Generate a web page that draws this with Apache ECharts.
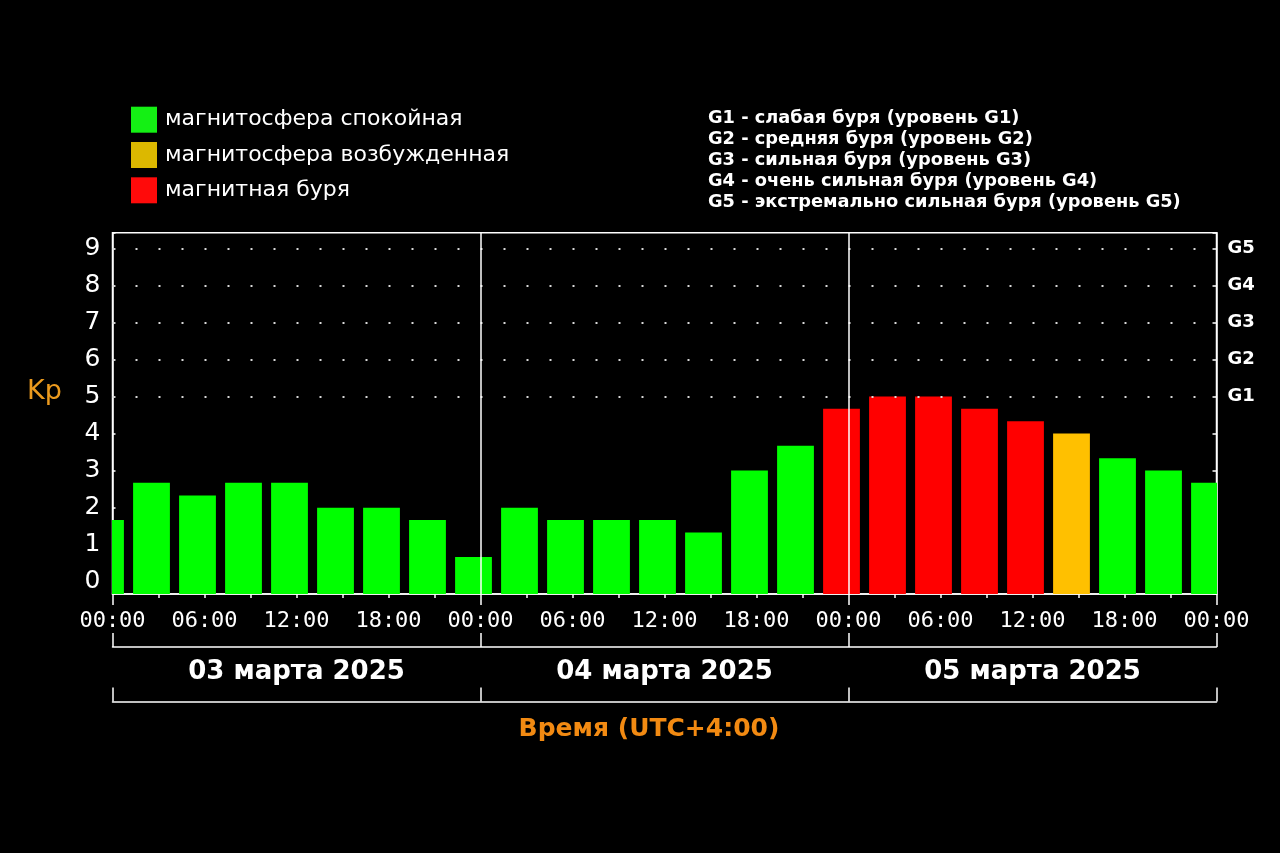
<!DOCTYPE html>
<html>
<head>
<meta charset="utf-8">
<script src="https://cdn.jsdelivr.net/npm/echarts@6/dist/echarts.min.js"></script>
<style>
html,body{margin:0;padding:0;background:#000;}
#chart{width:1280px;height:853px;}
</style>
</head>
<body>
<div id="chart"></div>
<script>
// ---- data ----
const hours = [0, 3, 6, 9, 12, 15, 18, 21, 24, 27, 30, 33, 36, 39, 42, 45, 48, 51, 54, 57, 60, 63, 66, 69, 72];
const kp = [1.67, 2.67, 2.33, 2.67, 2.67, 2.0, 2.0, 1.67, 0.67,
            2.0, 1.67, 1.67, 1.67, 1.33, 3.0, 3.67, 4.67,
            5.0, 5.0, 4.67, 4.33, 4.0, 3.33, 3.0, 2.67];
const timeLabels = ['00:00', '06:00', '12:00', '18:00'];
const dayLabels = ['03 марта 2025', '04 марта 2025', '05 марта 2025'];
const gLevels = [5, 6, 7, 8, 9];
const gLabels = ['G1', 'G2', 'G3', 'G4', 'G5'];
const statusNames = ['магнитосфера спокойная', 'магнитосфера возбужденная', 'магнитная буря'];
const gLegend = [
  'G1 - слабая буря (уровень G1)',
  'G2 - средняя буря (уровень G2)',
  'G3 - сильная буря (уровень G3)',
  'G4 - очень сильная буря (уровень G4)',
  'G5 - экстремально сильная буря (уровень G5)'
];

// ---- styling ----
const FONT = 'DejaVu Sans';
const barColors = ['#00ff00', '#ffc000', '#ff0000'];
const legendColors = ['#14f014', '#dcb800', '#ff0a0a'];
const Y_MIN = -0.33, Y_MAX = 9.42;
const BAR_SHIFT = -7;

function statusOf(v) { return v >= 4.3 ? 2 : (v >= 4 ? 1 : 0); }

function renderBar(params, api) {
  const x = api.value(0), v = api.value(1);
  const top = api.coord([x, v]);
  const bottom = api.coord([x, Y_MIN]);
  const w = api.size([3, 0])[0] * 0.8;
  return {
    type: 'rect',
    shape: { x: top[0] - w / 2 + BAR_SHIFT, y: top[1], width: w, height: bottom[1] - top[1] },
    style: { fill: api.visual('color') }
  };
}

const barSeries = statusNames.map((name, s) => ({
  name: name,
  type: 'custom',
  xAxisIndex: 0,
  yAxisIndex: 0,
  clip: true,
  z: 3,
  itemStyle: { color: barColors[s] },
  encode: { x: 0, y: 1 },
  renderItem: renderBar,
  data: hours.map((h, i) => [h, kp[i]]).filter(d => statusOf(d[1]) === s)
}));

const gridSeries = {
  type: 'line',
  name: 'grid',
  z: 1,
  data: [],
  silent: true,
  markLine: {
    silent: true,
    symbol: ['none', 'none'],
    label: { show: false },
    animation: false,
    data: gLevels.map(g => ({ yAxis: g, lineStyle: { type: [2, 21], color: '#d8d8d8', width: 2 } }))
      .concat([24, 48].map(h => ({ xAxis: h, lineStyle: { type: 'solid', color: '#ffffff', width: 1.5 } })))
  }
};

const chart = echarts.init(document.getElementById('chart'), null, { renderer: 'canvas' });
chart.setOption({
  backgroundColor: '#000',
  animation: false,
  title: [
    { text: 'Kp', left: 27, top: 378, padding: 0,
      textStyle: { color: '#eb9a1e', fontSize: 27, fontWeight: 'normal', fontFamily: FONT } },
    { text: 'Время (UTC+4:00)', left: 649, textAlign: 'center', top: 717, padding: 0,
      textStyle: { color: '#f28a12', fontSize: 25, fontWeight: 'bold', fontFamily: FONT } },
    { text: gLegend.join('\n'), left: 708, top: 108, padding: 0,
      textStyle: { color: '#ffffff', fontSize: 17.8, fontWeight: 'bold', fontFamily: FONT, lineHeight: 21 } }
  ],
  legend: {
    data: statusNames.map((n, i) => ({ name: n, itemStyle: { color: legendColors[i] } })),
    orient: 'vertical', left: 131, top: 106.7, padding: 0,
    itemWidth: 26, itemHeight: 26, itemGap: 9.3, icon: 'rect',
    selectedMode: false,
    textStyle: { color: '#ffffff', fontSize: 22, fontFamily: FONT, padding: [0, 0, 0, 3] }
  },
  grid: {
    left: 112.5, right: 63.5, top: 232.7, bottom: 259,
    show: true, borderColor: '#ffffff', borderWidth: 1.5,
    backgroundColor: 'transparent',
    containLabel: false, outerBoundsMode: 'none'
  },
  xAxis: [
    { type: 'value', min: 0, max: 72, interval: 3, position: 'bottom',
      axisLine: { show: true, onZero: false, lineStyle: { color: '#fff', width: 1.5 } },
      axisTick: { show: true, length: 4, lineStyle: { color: '#fff', width: 1.5 } },
      splitLine: { show: false },
      axisLabel: { color: '#fff', fontFamily: 'DejaVu Sans Mono', fontSize: 22, margin: 16,
        formatter: v => (v % 6 === 0 ? timeLabels[(v % 24) / 6] : '') } },
    { type: 'value', min: 0, max: 72, interval: 24, position: 'bottom',
      axisLine: { show: false, onZero: false },
      axisTick: { show: true, length: 11, lineStyle: { color: '#fff', width: 1.5 } },
      splitLine: { show: false }, axisLabel: { show: false } },
    { type: 'category', data: dayLabels, boundaryGap: true, position: 'bottom', offset: 53,
      axisLine: { show: true, onZero: false, lineStyle: { color: '#fff', width: 1.5 } },
      axisTick: { show: true, inside: true, length: 14, interval: 0, lineStyle: { color: '#fff', width: 1.5 } },
      splitLine: { show: false },
      axisLabel: { show: true, interval: 0, color: '#fff', fontFamily: FONT, fontWeight: 'bold', fontSize: 26, margin: 12 } },
    { type: 'category', data: dayLabels, boundaryGap: true, position: 'bottom', offset: 107.5,
      axisLine: { show: true, onZero: false, lineStyle: { color: '#fff', width: 1.5 } },
      axisTick: { show: true, inside: true, length: 14, interval: 0, lineStyle: { color: '#fff', width: 1.5 } },
      splitLine: { show: false }, axisLabel: { show: false } }
  ],
  yAxis: [
    { type: 'value', min: Y_MIN, max: Y_MAX, splitNumber: 10, minInterval: 1, maxInterval: 1, position: 'left',
      axisLine: { show: true, onZero: false, lineStyle: { color: '#fff', width: 1.5 } },
      axisTick: { show: true, inside: true, length: 3, lineStyle: { color: '#fff', width: 1.5 } },
      splitLine: { show: false },
      axisLabel: { color: '#fff', fontFamily: FONT, fontSize: 25, margin: 12,
        formatter: v => (Math.abs(v - Math.round(v)) < 1e-6 ? String(Math.round(v)) : '') } },
    { type: 'value', min: Y_MIN, max: Y_MAX, splitNumber: 10, minInterval: 1, maxInterval: 1, position: 'right',
      axisLine: { show: true, onZero: false, lineStyle: { color: '#fff', width: 1.5 } },
      axisTick: { show: true, inside: true, length: 4, lineStyle: { color: '#fff', width: 1.5 } },
      splitLine: { show: false },
      axisLabel: { color: '#fff', fontFamily: FONT, fontWeight: 'bold', fontSize: 18, margin: 11,
        formatter: v => { const i = gLevels.indexOf(Math.round(v)); return (Math.abs(v - Math.round(v)) < 1e-6 && i >= 0) ? gLabels[i] : ''; } } }
  ],
  series: [gridSeries].concat(barSeries)
});
</script>
</body>
</html>
